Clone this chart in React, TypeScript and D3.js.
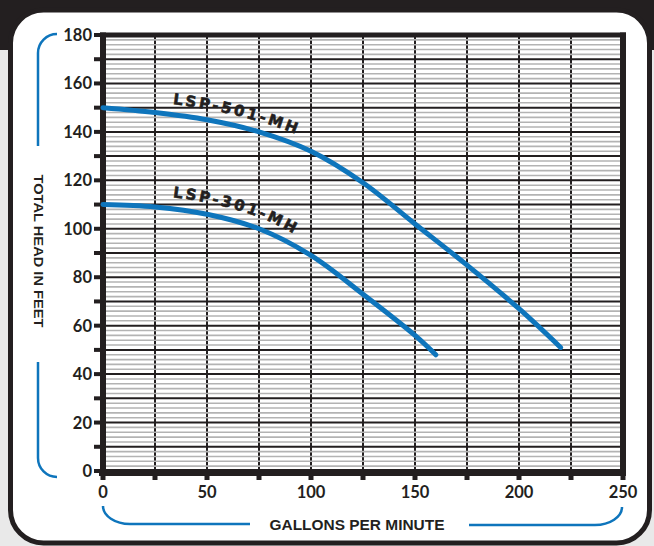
import React from "react";
import * as d3 from "d3";

const flowLsp501 = [0, 25, 50, 75, 100, 125, 150, 175, 200, 220];
const headLsp501 = [150, 148, 145, 140, 132, 119, 102, 85, 67, 51];
const flowLsp301 = [0, 25, 50, 75, 100, 125, 150, 160];
const headLsp301 = [110, 109, 106, 100, 89, 73, 56, 48];
const xTicks = [0, 50, 100, 150, 200, 250];
const yTicks = [0, 20, 40, 60, 80, 100, 120, 140, 160, 180];
const seriesNames = ["LSP-501-MH", "LSP-301-MH"];

const W = 654;
const H = 546;

export default function App() {
  const x = d3.scaleLinear().domain([0, 250]).range([103, 623]);
  const y = d3.scaleLinear().domain([0, 180]).range([471, 35]);

  const s501 = flowLsp501.map((f, i) => ({ f, h: headLsp501[i] }));
  const s301 = flowLsp301.map((f, i) => ({ f, h: headLsp301[i] }));

  const line = (off: number) =>
    d3
      .line<{ f: number; h: number }>()
      .x((d) => x(d.f))
      .y((d) => y(d.h) + off)
      .curve(d3.curveCatmullRom.alpha(0.5));

  const minor = d3.range(2, 180, 2).filter((v) => v % 10 !== 0);
  const majorH = d3.range(10, 180, 10);
  const majorV = d3.range(25, 250, 25);
  const leftTicks = d3.range(0, 181, 10);
  const botTicks = d3.range(0, 251, 25);

  const dark = "#231f20";
  const blue = "#0e75bc";
  const tickFont = "Lato, 'DejaVu Sans', sans-serif";

  return (
    <svg
      width={W}
      height={H}
      style={{ position: "absolute", left: 0, top: 0, display: "block" }}
    >
      <rect x={0} y={0} width={W} height={H} fill="#e9e9e9" />
      <rect x={0} y={0} width={W} height={50} fill={dark} />
      <rect
        x={10.5}
        y={10}
        width={639}
        height={533}
        rx={33}
        ry={33}
        fill="#ffffff"
        stroke={dark}
        strokeWidth={5}
      />

      {majorV.map((v) => (
        <line key={"v" + v} x1={x(v)} x2={x(v)} y1={y(180)} y2={y(0)} stroke={dark} strokeWidth={2} />
      ))}
      {minor.map((v) => (
        <line key={"m" + v} x1={x(0)} x2={x(250)} y1={y(v)} y2={y(v)} stroke="#b3b3b3" strokeWidth={1.6} />
      ))}
      {majorH.map((v) => (
        <line key={"h" + v} x1={x(0)} x2={x(250)} y1={y(v)} y2={y(v)} stroke={dark} strokeWidth={2} />
      ))}

      <line x1={100} x2={626} y1={y(180)} y2={y(180)} stroke={dark} strokeWidth={5} />
      <line x1={x(250)} x2={x(250)} y1={32.5} y2={476} stroke={dark} strokeWidth={6} />
      <line x1={x(0)} x2={x(0)} y1={32.5} y2={476} stroke={dark} strokeWidth={6} />
      <line x1={99} x2={626} y1={y(0) + 1.5} y2={y(0) + 1.5} stroke={dark} strokeWidth={7} />

      {leftTicks.map((v) => (
        <rect key={"lt" + v} x={94} y={y(v) - 2} width={6} height={4} fill={dark} />
      ))}
      {botTicks.map((v) => (
        <rect key={"bt" + v} x={x(v) - 2.5} y={475} width={5} height={5} fill={dark} />
      ))}

      {yTicks.map((v) => (
        <text
          key={"yl" + v}
          x={92}
          y={y(v) + 6}
          textAnchor="end"
          fontFamily={tickFont}
          fontWeight={700}
          fontSize={16.5}
          fill={dark}
        >
          {v}
        </text>
      ))}
      {xTicks.map((v) => (
        <text
          key={"xl" + v}
          x={x(v)}
          y={498}
          textAnchor="middle"
          fontFamily={tickFont}
          fontWeight={700}
          fontSize={16.5}
          fill={dark}
        >
          {v}
        </text>
      ))}

      <text
        transform="translate(34,251) rotate(90)"
        textAnchor="middle"
        fontFamily="'Liberation Sans', Arial, sans-serif"
        fontWeight={700}
        fontSize={13.5}
        textLength={153}
        lengthAdjust="spacingAndGlyphs"
        fill={dark}
      >
        TOTAL HEAD IN FEET
      </text>
      <text
        x={357}
        y={530}
        textAnchor="middle"
        fontFamily="'Liberation Sans', Arial, sans-serif"
        fontWeight={700}
        fontSize={14}
        textLength={175}
        lengthAdjust="spacingAndGlyphs"
        fill={dark}
      >
        GALLONS PER MINUTE
      </text>

      <g fill="none" stroke={blue} strokeWidth={2.5}>
        <path d="M57,34 A19,19 0 0 0 38,53 L38,146" />
        <path d="M38,362 L38,458 A19,19 0 0 0 57,477" />
        <path d="M103,506 A27,18 0 0 0 130,524 L250,524" />
        <path d="M469,525 L595,525 A27,18 0 0 0 622,507" />
      </g>

      <path d={line(0)(s501) || ""} fill="none" stroke={blue} strokeWidth={5} strokeLinecap="round" />
      <path d={line(0)(s301) || ""} fill="none" stroke={blue} strokeWidth={5} strokeLinecap="round" />

      <defs>
        <path id="lab501" d={line(-10.5)(s501) || ""} />
        <path id="lab301" d={line(-11.5)(s301) || ""} />
      </defs>
      <text
        fontFamily="'DejaVu Sans', Verdana, sans-serif"
        fontWeight={700}
        fontSize={15}
        letterSpacing={2.7}
        fill={dark}
        stroke={dark}
        strokeWidth={0.6}
      >
        <textPath href="#lab501" startOffset={70}>
          {seriesNames[0]}
        </textPath>
      </text>
      <text
        fontFamily="'DejaVu Sans', Verdana, sans-serif"
        fontWeight={700}
        fontSize={15}
        letterSpacing={2.7}
        fill={dark}
        stroke={dark}
        strokeWidth={0.6}
      >
        <textPath href="#lab301" startOffset={70}>
          {seriesNames[1]}
        </textPath>
      </text>
    </svg>
  );
}
